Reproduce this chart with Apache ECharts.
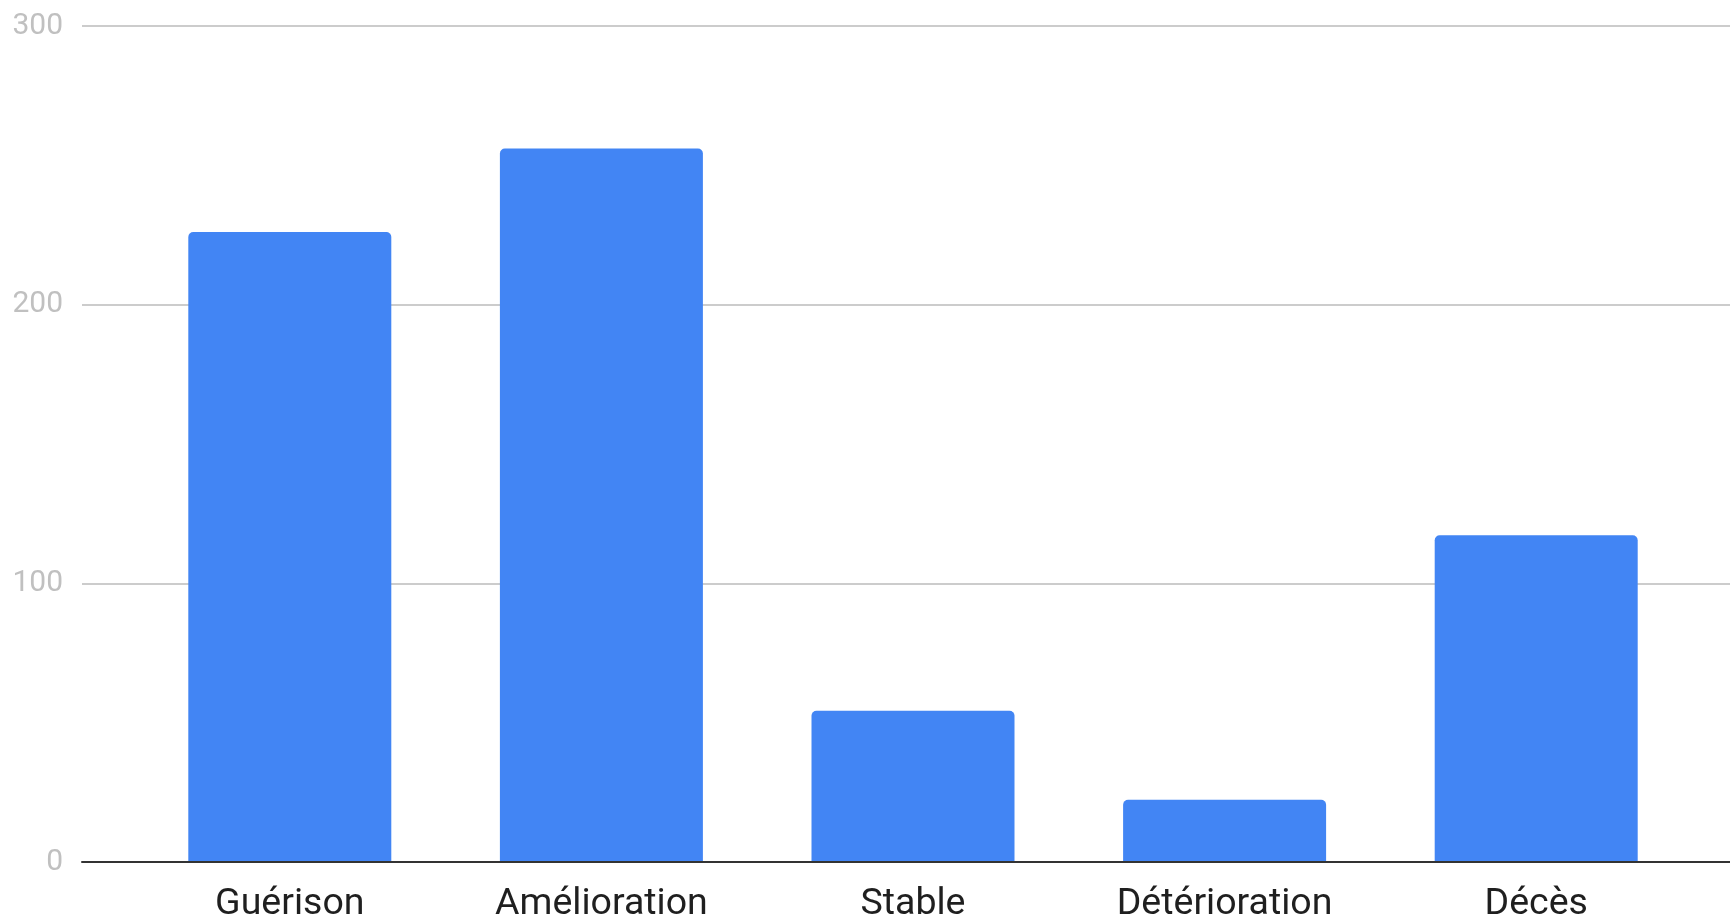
<!DOCTYPE html>
<html>
<head>
<meta charset="utf-8">
<title>Évolution des patients</title>
<script src="https://cdn.jsdelivr.net/npm/echarts@6/dist/echarts.min.js"></script>
<style>
  html, body { margin: 0; padding: 0; background: #ffffff; }
  #chart { width: 1730px; height: 924px; }
</style>
</head>
<body>
<div id="chart"></div>
<script>
// Outcome categories and patient counts
const categories = ['Guérison', 'Amélioration', 'Stable', 'Détérioration', 'Décès'];
const counts = [226, 256, 54, 22, 117];
const yTicks = [0, 100, 200, 300];

const chart = echarts.init(document.getElementById('chart'), null, { renderer: 'canvas' });

const yMin = yTicks[0];
const yMax = yTicks[yTicks.length - 1];
const yStep = yTicks[1] - yTicks[0];

chart.setOption({
  animation: false,
  backgroundColor: '#ffffff',
  textStyle: { fontFamily: 'Roboto' },
  grid: [
    // frame: value labels, gridlines and baseline
    { left: 82, right: 0, top: 26, bottom: 62 },
    // bars and category labels
    { left: 134, right: 38, top: 26, bottom: 62 }
  ],
  xAxis: [
    {
      gridIndex: 0,
      type: 'value',
      min: 0,
      max: 1,
      z: 5,
      axisLine: { show: true, lineStyle: { color: '#333333', width: 2 } },
      axisTick: { show: false },
      axisLabel: { show: false },
      splitLine: { show: false }
    },
    {
      gridIndex: 1,
      type: 'category',
      data: categories,
      axisLine: { show: false },
      axisTick: { show: false },
      axisLabel: {
        margin: 25,
        color: '#1f1f1f',
        fontSize: 37.5,
        fontFamily: 'Roboto'
      },
      splitLine: { show: false }
    }
  ],
  yAxis: [
    {
      gridIndex: 0,
      type: 'value',
      min: yMin,
      max: yMax,
      interval: yStep,
      axisLine: { show: false },
      axisTick: { show: false },
      axisLabel: {
        margin: 19,
        color: '#c0c0c0',
        fontSize: 30,
        fontFamily: 'Roboto'
      },
      splitLine: { show: true, lineStyle: { color: '#cccccc', width: 2 } }
    },
    {
      gridIndex: 1,
      type: 'value',
      min: yMin,
      max: yMax,
      interval: yStep,
      show: false,
      splitLine: { show: false }
    }
  ],
  series: [
    {
      type: 'bar',
      xAxisIndex: 1,
      yAxisIndex: 1,
      data: counts,
      barWidth: 203,
      itemStyle: { color: '#4285f4', borderRadius: [5, 5, 0, 0] }
    }
  ]
});
</script>
</body>
</html>
